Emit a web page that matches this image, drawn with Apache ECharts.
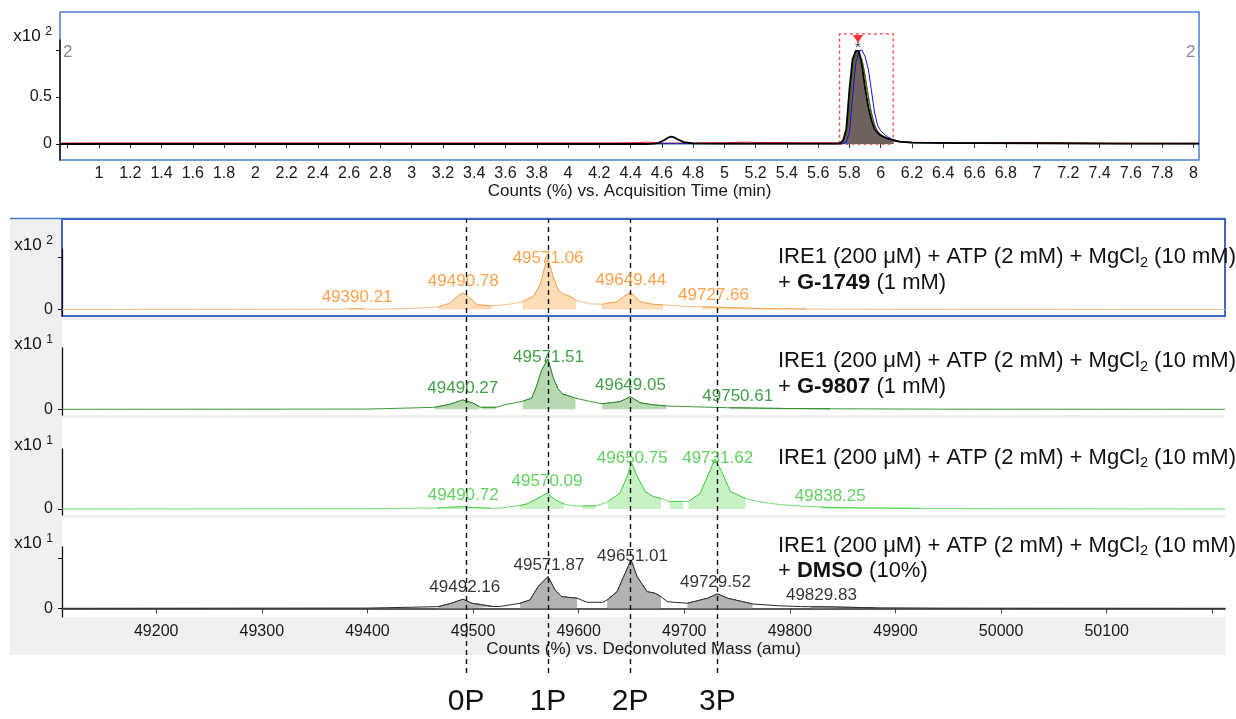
<!DOCTYPE html>
<html><head><meta charset="utf-8">
<script src="https://cdn.jsdelivr.net/npm/echarts@6/dist/echarts.min.js"></script>
<style>html,body{margin:0;padding:0;background:#fff}#c{width:1236px;height:719px}</style>
</head><body><div id="c"></div>
<script>
// ================= DATA =================
// Chromatogram (top): counts (x10^2 %) vs acquisition time (min)
const timeTicks = [0.8,1,1.2,1.4,1.6,1.8,2,2.2,2.4,2.6,2.8,3,3.2,3.4,3.6,3.8,4,4.2,4.4,4.6,4.8,5,5.2,5.4,5.6,5.8,6,6.2,6.4,6.6,6.8,7,7.2,7.4,7.6,7.8,8];
const timeLabels = [1,1.2,1.4,1.6,1.8,2,2.2,2.4,2.6,2.8,3,3.2,3.4,3.6,3.8,4,4.2,4.4,4.6,4.8,5,5.2,5.4,5.6,5.8,6,6.2,6.4,6.6,6.8,7,7.2,7.4,7.6,7.8,8];
const countTicks = [0,0.5,1];
const countLabels = [0,0.5];
const chromTime  = [0.75,1,2,3,4,4.3,4.45,4.5,4.55,4.58,4.62,4.64,4.66,4.68,4.7,4.74,4.8,5.0,5.1,5.15,5.2,5.5,5.72,5.74,5.76,5.78,5.8,5.82,5.84,5.86,5.88,5.9,5.92,5.94,5.96,5.98,6.0,6.04,6.08,6.12,6.2,6.5,6.55,6.6,7.0,7.5,8.036];
const chromBlack = [0,0,0,0,0,0,0,0,0.003,0.012,0.045,0.068,0.078,0.07,0.05,0.02,0.006,0.004,0.004,0.004,0.004,0.004,0.004,0.006,0.04,0.16,0.58,0.9,0.99,0.99,0.84,0.6,0.4,0.26,0.16,0.12,0.09,0.06,0.04,0.025,0.015,0.01,0.01,0.01,0.008,0.005,0.004];
const chromRed   = [0.01,0.012,0.012,0.012,0.012,0.012,0.015,0.02,0.015,0.012,0.01,0.01,0.01,0.01,0.01,0.01,0.012,0.014,0.018,0.02,0.016,0.014,0.014,0.014,0.02,0.06,0.3,0.7,0.93,0.96,0.9,0.74,0.52,0.34,0.21,0.14,0.1,0.06,0.035,0.025,0.018,0.014,0.014,0.014,0.016,0.01,0.008];
const chromGreen = [0.002,0.002,0.002,0.002,0.002,0.002,0.002,0.002,0.002,0.002,0.002,0.002,0.002,0.002,0.002,0.002,0.002,0.002,0.002,0.002,0.002,0.002,0.002,0.004,0.01,0.08,0.35,0.75,0.95,0.98,0.9,0.72,0.5,0.33,0.2,0.13,0.1,0.06,0.035,0.02,0.012,0.01,0.014,0.01,0.006,0.004,0.003];
const chromBlue  = [0.003,0.003,0.003,0.003,0.003,0.003,0.003,0.003,0.003,0.003,0.003,0.003,0.003,0.003,0.003,0.003,0.003,0.003,0.003,0.003,0.003,0.003,0.003,0.003,0.004,0.02,0.12,0.5,0.85,0.99,1.0,0.93,0.8,0.58,0.34,0.2,0.14,0.08,0.045,0.028,0.016,0.008,0.008,0.008,0.005,0.004,0.003];
const rtPeak = 5.855;
const rtWindow = [5.737, 6.08];

// Deconvoluted spectra: counts vs mass (amu)
const massTicks  = [49200,49300,49400,49500,49600,49700,49800,49900,50000,50100,50200];
const massLabels = [49200,49300,49400,49500,49600,49700,49800,49900,50000,50100];
const panelTicks = [0,1];
const panelLabels = [0];

// + G-1749 (orange)
const massA = [49111,49370,49383,49390,49397,49410,49440,49460,49467,49478,49485,49490.5,49496,49504,49518,49530,49540,49547,49557,49563.5,49568,49571,49576,49580.5,49585,49592,49597.6,49610,49622,49636.5,49649,49658,49670,49680,49700,49717,49728,49741,49770,49815,49900,50212];
const intA  = [0,0.005,0.012,0.02,0.012,0.006,0.02,0.04,0.05,0.12,0.25,0.32,0.24,0.09,0.07,0.09,0.12,0.15,0.25,0.47,0.82,0.98,0.62,0.37,0.3,0.25,0.18,0.11,0.1,0.15,0.34,0.15,0.1,0.09,0.06,0.05,0.045,0.035,0.02,0.01,0.003,0];
const winA  = [[49383,49397],[49467,49518],[49547,49597.6],[49622,49680],[49717,49815]];
const peakMassA = [49390.21,49490.78,49571.06,49649.44,49727.66];
const peakIntA  = [0.02,0.32,0.98,0.34,0.045];

// + G-9807 (dark green)
const massB = [49111,49400,49430,49464,49478,49490.5,49500,49506,49508,49515,49522,49530,49540,49547,49555.5,49560,49565,49571,49575.5,49580,49585,49591,49597,49610,49622,49639,49649,49658,49670,49683,49710,49743,49750,49760,49800,49838,49950,50212];
const intB  = [0,0.005,0.02,0.04,0.1,0.185,0.12,0.05,0.04,0.04,0.04,0.09,0.13,0.16,0.22,0.45,0.78,1.0,0.65,0.42,0.3,0.265,0.22,0.16,0.11,0.15,0.25,0.13,0.09,0.066,0.05,0.03,0.03,0.025,0.015,0.01,0.003,0];
const winB  = [[49464,49506],[49508,49522],[49547,49597],[49622,49683],[49743,49838]];
const peakMassB = [49490.27,49571.51,49649.05,49750.61];
const peakIntB  = [0.185,1.0,0.25,0.03];

// no inhibitor (light green)
const massC = [49111,49400,49440,49466,49480,49490.5,49500,49516,49526,49544.5,49551,49561,49570,49578,49586,49595,49604,49610,49616,49622,49628,49639,49646,49650,49655.5,49663,49670.6,49678,49682,49686,49692,49699,49704,49715,49722,49729,49736,49743.6,49758,49770,49790,49810,49829,49838,49870,49924,50000,50212];
const intC  = [0,0.005,0.015,0.02,0.035,0.045,0.03,0.015,0.02,0.07,0.1,0.21,0.315,0.18,0.1,0.06,0.06,0.06,0.06,0.1,0.15,0.315,0.65,0.92,0.65,0.35,0.25,0.21,0.18,0.15,0.15,0.15,0.15,0.31,0.65,1.0,0.72,0.35,0.21,0.15,0.09,0.06,0.04,0.03,0.02,0.012,0.005,0];
const winC  = [[49466,49516],[49544.5,49586],[49604,49616],[49628,49678],[49686,49699],[49704,49758],[49829,49924]];
const peakMassC = [49490.72,49570.09,49650.75,49731.62,49838.25];
const peakIntC  = [0.045,0.315,0.92,1.0,0.03];

// + DMSO (black)
const massD = [49111,49400,49440,49467,49478,49490.5,49499,49519,49525,49544.5,49554,49561.6,49571,49577.6,49584,49598.5,49608,49623,49627,49636.4,49644,49649.6,49655.3,49664.8,49672.3,49678,49684,49703,49722,49731.5,49741,49764.7,49790,49810,49820,49830,49880,49950,50212];
const intD  = [0,0.005,0.02,0.033,0.09,0.18,0.1,0.035,0.035,0.1,0.166,0.43,0.63,0.365,0.23,0.2,0.12,0.12,0.166,0.33,0.695,0.96,0.63,0.33,0.3,0.23,0.13,0.1,0.2,0.285,0.2,0.086,0.05,0.035,0.03,0.03,0.01,0.003,0];
const winD  = [[49467,49519],[49544.5,49598.5],[49627,49678],[49703,49764.7],[49820,49880]];
const peakMassD = [49492.16,49571.87,49651.01,49729.52,49829.83];
const peakIntD  = [0.18,0.63,0.96,0.285,0.03];

// phosphorylation states (reference lines)
const phosMass   = [49493.4,49571,49648.7,49731.4];
const phosLabels = ['0P','1P','2P','3P'];

// conditions
const condBase     = 'IRE1 (200 μM) + ATP (2 mM) + MgCl';
const condCompound = ['G-1749','G-9807',null,'DMSO'];
const condAmount   = ['(1 mM)','(1 mM)',null,'(10%)'];
const panelExp     = ['2','1','1','1'];

// ================= LAYOUT / STYLE =================
const FONT = "'Liberation Sans', Arial, Helvetica, sans-serif";
const TIME_MIN = 0.7505, TIME_MAX = 8.036;
const MASS_MIN = 49110.8, MASS_MAX = 50212;
const TOP = {left:60, right:1199, frameTop:12, bottom:160, axisTop:40, zero:144, ppu:94};
const PL = {left:62, right:1225};
const panelGeo = [
  {frameTop:219, frameBottom:316, axisTop:249, zero:309.5, ppu:52,   border:true,  textTop:244.5, topTick:true},
  {frameTop:320, frameBottom:415, axisTop:348, zero:409.3, ppu:50.3, border:false, textTop:348.5, topTick:false},
  {frameTop:418, frameBottom:515, axisTop:449, zero:509,   ppu:50,   border:false, textTop:445,   topTick:false},
  {frameTop:518, frameBottom:617, axisTop:547, zero:608.3, ppu:50.3, border:false, textTop:533,   topTick:true}
];
const panelStyle = [
  {line:'#f8bd84', win:'#f4a456', fill:'#fddcb7', label:'#ff8a1c'},
  {line:'#3c973c', win:'#2e8a2e', fill:'#b7d9b2', label:'#11881a'},
  {line:'#6fdd6f', win:'#4ccf4c', fill:'#c8f1c4', label:'#38c838'},
  {line:'#2a2a2a', win:'#333333', fill:'#b3b3b3', label:'#000000'}
];
const panelData = [
  {m:massA, v:intA, w:winA, pm:peakMassA, pi:peakIntA},
  {m:massB, v:intB, w:winB, pm:peakMassB, pi:peakIntB},
  {m:massC, v:intC, w:winC, pm:peakMassC, pi:peakIntC},
  {m:massD, v:intD, w:winD, pm:peakMassD, pi:peakIntD}
];

const grids = [], xAxes = [], yAxes = [], series = [];
function addGrid(g, xa, ya){ grids.push(g); const i = grids.length-1; xa.gridIndex=i; ya.gridIndex=i; xAxes.push(xa); yAxes.push(ya); return i; }
const zip = (xs, ys) => xs.map((x,i)=>[x, ys[i]]);
function expName(e){ return '{a|x10} {s|' + e + '}'; }
const expStyle = (pad) => ({align:'right', verticalAlign:'middle', padding:[0,pad,0,0], fontSize:17, fontFamily:FONT, color:'#111',
  rich:{a:{fontSize:17, lineHeight:20, fontFamily:FONT, color:'#111'}, s:{fontSize:12, lineHeight:12, verticalAlign:'top', fontFamily:FONT, color:'#111'}}});

// ---- top chromatogram ----
const topFrame = addGrid(
  {left:TOP.left, top:TOP.frameTop, width:TOP.right-TOP.left, height:TOP.bottom-TOP.frameTop, show:true, backgroundColor:'#fff', borderColor:'#4f7fd0', borderWidth:1.5},
  {type:'value', min:TIME_MIN, max:TIME_MAX, show:false},
  {type:'value', min:-(TOP.bottom-TOP.zero)/TOP.ppu, max:(TOP.zero-TOP.frameTop)/TOP.ppu, show:false});
const topData = addGrid(
  {left:TOP.left, top:TOP.axisTop, width:TOP.right-TOP.left, height:TOP.bottom-TOP.axisTop, show:false},
  {type:'value', min:TIME_MIN, max:TIME_MAX, axisLine:{show:false},
   axisTick:{show:true, customValues:timeTicks, length:4, lineStyle:{color:'#333'}},
   axisLabel:{show:true, customValues:timeLabels, formatter:v=>String(v), fontSize:16, fontFamily:FONT, color:'#1a1a1a', margin:6},
   splitLine:{show:false},
   name:'Counts (%) vs. Acquisition Time (min)', nameLocation:'middle', nameGap:14,
   nameTextStyle:{fontSize:17, fontFamily:FONT, color:'#1a1a1a'}},
  {type:'value', min:-(TOP.bottom-TOP.zero)/TOP.ppu, max:(TOP.zero-TOP.axisTop)/TOP.ppu,
   axisLine:{show:true, lineStyle:{color:'#111', width:1.5}},
   axisTick:{show:true, customValues:countTicks, length:4, lineStyle:{color:'#111'}},
   axisLabel:{show:true, customValues:countLabels, formatter:v=>String(v), fontSize:16, fontFamily:FONT, color:'#1a1a1a', margin:8},
   splitLine:{show:false},
   name:expName('2'), nameLocation:'end', nameGap:4, nameTextStyle:expStyle(8)});

const blackPairs = zip(chromTime, chromBlack);
series.push({type:'line', xAxisIndex:topData, yAxisIndex:topData, silent:true, symbol:'none', z:1,
  data: blackPairs.filter(p=>p[0]>=rtWindow[0]-0.01 && p[0]<=rtWindow[1]),
  lineStyle:{width:0}, areaStyle:{color:'#6e625d', opacity:1}});
[[chromRed,'#ee1c1c'],[chromGreen,'#0a8a0a'],[chromBlue,'#1010e0']].forEach(([arr,col])=>{
  series.push({type:'line', xAxisIndex:topData, yAxisIndex:topData, silent:true, symbol:'none', z:2,
    data: zip(chromTime, arr), lineStyle:{color:col, width:1}});
});
series.push({type:'line', xAxisIndex:topData, yAxisIndex:topData, silent:true, symbol:'none', z:3,
  data: blackPairs, lineStyle:{color:'#000', width:1.8}});
const apex = Math.max(...chromBlack);
series.push({type:'scatter', xAxisIndex:topFrame, yAxisIndex:topFrame, silent:true, z:4,
  data:[{value:[rtPeak, apex + 12/TOP.ppu], symbol:'triangle', symbolRotate:180, symbolSize:[10,8], itemStyle:{color:'#ff0000'}},
        {value:[rtPeak, apex + 3/TOP.ppu], symbolSize:1, itemStyle:{color:'transparent'},
         label:{show:true, position:'inside', formatter:'*', fontSize:15, fontFamily:FONT, color:'#000', textBorderWidth:0}}],
  markArea:{silent:true, itemStyle:{color:'rgba(0,0,0,0)', borderColor:'#ff3b3b', borderWidth:1.3, borderType:[3,3]},
    data:[[{xAxis:rtWindow[0], yAxis:0},{xAxis:rtWindow[1], yAxis:apex + 17/TOP.ppu}]]}});

// ---- spectra panels ----
panelGeo.forEach((g, k) => {
  const st = panelStyle[k], d = panelData[k];
  const ymin = -(g.frameBottom - g.zero)/g.ppu;
  addGrid({left:PL.left, top:g.frameTop, width:PL.right-PL.left, height:g.frameBottom-g.frameTop, show:true, backgroundColor:'#fff',
           borderColor:g.border ? '#3d69c6' : 'transparent', borderWidth:g.border ? 2 : 0},
          {type:'value', min:MASS_MIN, max:MASS_MAX, show:false},
          {type:'value', min:0, max:1, show:false});
  const last = k === panelGeo.length-1;
  const ymax = (g.zero - g.axisTop)/g.ppu;
  const gi = addGrid({left:PL.left, top:g.axisTop, width:PL.right-PL.left, height:g.frameBottom-g.axisTop, show:false},
    last ? {type:'value', min:MASS_MIN, max:MASS_MAX,
      axisLine:{show:true, lineStyle:{color:'#5c5c5c', width:2}},
      axisTick:{show:true, customValues:massTicks, length:5, lineStyle:{color:'#444'}},
      axisLabel:{show:true, customValues:massLabels, formatter:v=>String(v), fontSize:16, fontFamily:FONT, color:'#1a1a1a', margin:7},
      splitLine:{show:false},
      name:'Counts (%) vs. Deconvoluted Mass (amu)', nameLocation:'middle', nameGap:14,
      nameTextStyle:{fontSize:17, fontFamily:FONT, color:'#1a1a1a'}}
    : {type:'value', min:MASS_MIN, max:MASS_MAX, show:false},
    {type:'value', min:ymin, max:ymax,
     axisLine:{show:true, lineStyle:{color:'#111', width:1.3}},
     axisTick:{show:true, customValues:g.topTick ? panelTicks : [0], length:4, lineStyle:{color:'#111'}},
     axisLabel:{show:true, customValues:panelLabels, formatter:v=>String(v), fontSize:16, fontFamily:FONT, color:'#1a1a1a', margin:9},
     splitLine:{show:false},
     name:expName(panelExp[k]), nameLocation:'end', nameGap:4, nameTextStyle:expStyle(9)});
  const pairs = zip(d.m, d.v);
  series.push({type:'line', xAxisIndex:gi, yAxisIndex:gi, silent:true, symbol:'none', z:2,
    data:pairs, lineStyle:{color:st.line, width:1}});
  d.w.forEach(([a,b]) => {
    series.push({type:'line', xAxisIndex:gi, yAxisIndex:gi, silent:true, symbol:'none', z:3,
      data:pairs.filter(p=>p[0]>=a && p[0]<=b), lineStyle:{color:st.win, width:1},
      areaStyle:{color:st.fill, opacity:1}});
  });
  const cap = (g.zero - g.axisTop - 9)/g.ppu;
  series.push({type:'scatter', xAxisIndex:gi, yAxisIndex:gi, silent:true, z:5, symbolSize:1,
    itemStyle:{color:'transparent'},
    data:d.pm.map((m,i)=>[m, Math.min(d.pi[i] + 11.5/g.ppu, cap)]),
    label:{show:true, position:'inside', formatter:p=>p.value[0].toFixed(2), fontSize:17, fontFamily:FONT,
           color:st.label, textBorderWidth:0, textShadowBlur:0}});
});

// ---- overlay for phosphorylation reference lines ----
const ov = addGrid({left:PL.left, top:219, width:PL.right-PL.left, height:673-219, show:false},
  {type:'value', min:MASS_MIN, max:MASS_MAX, show:false},
  {type:'value', min:0, max:1, show:false});
series.push({type:'line', xAxisIndex:ov, yAxisIndex:ov, silent:true, symbol:'none', z:6,
  data:[[phosMass[0], 0.5]], lineStyle:{opacity:0},
  markLine:{silent:true, symbol:['none','none'], animation:false,
    lineStyle:{color:'#111', width:1.4, type:[5,4]},
    label:{show:true, position:'start', distance:14, formatter:'{b}', fontSize:30, fontFamily:FONT, color:'#111'},
    data:phosMass.map((m,i)=>({xAxis:m, name:phosLabels[i]}))}});

// ---- graphic: background, condition texts, trace numbers ----
const richCond = {
  n:{fontSize:22, lineHeight:25.5, fontFamily:FONT, fill:'#111'},
  b:{fontSize:22, lineHeight:25.5, fontFamily:FONT, fontWeight:'bold', fill:'#111'},
  s:{fontSize:14.5, lineHeight:14, verticalAlign:'bottom', fontFamily:FONT, fill:'#111'}
};
const elements = [
  {type:'rect', z:-100, shape:{x:10, y:218, width:1215, height:437}, style:{fill:'#f0f0f0'}},
  {type:'line', z:-99, shape:{x1:10, y1:218.5, x2:1225, y2:218.5}, style:{stroke:'#4a78c8', lineWidth:1.5}},
  {type:'text', z:10, x:63, y:44, style:{text:'2', fontSize:17, fontFamily:FONT, fill:'#8a8a8a'}},
  {type:'text', z:10, x:1186, y:44, style:{text:'2', fontSize:17, fontFamily:FONT, fill:'#8a8a8a'}}
];
panelGeo.forEach((g,k)=>{
  let t = '{n|' + condBase + '}{s|2}{n| (10 mM)}';
  if (condCompound[k]) t += '\n{n|+ }{b|' + condCompound[k] + '}{n| ' + condAmount[k] + '}';
  elements.push({type:'text', z:10, x:778, y:g.textTop, style:{text:t, rich:richCond, align:'left', verticalAlign:'top', fontSize:22, fontFamily:FONT, fill:'#111'}});
});

const chart = echarts.init(document.getElementById('c'), null, {renderer:'canvas', width:1236, height:719});
chart.setOption({
  animation:false,
  backgroundColor:'#fff',
  grid:grids, xAxis:xAxes, yAxis:yAxes, series:series,
  graphic:{elements:elements}
});
</script>
</body></html>
